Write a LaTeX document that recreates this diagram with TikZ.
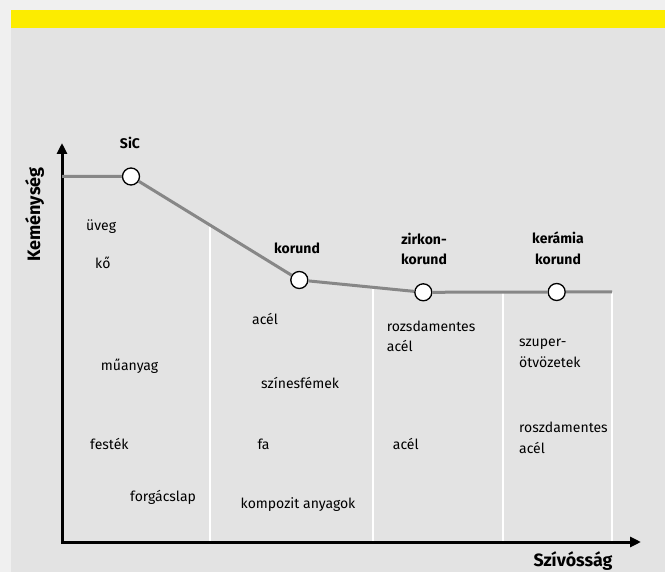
\documentclass[tikz,border=0pt]{standalone}
\usepackage{fontspec}
\setmainfont{Fira Sans}
\usetikzlibrary{arrows.meta}
\definecolor{outerbg}{HTML}{F0F0F0}
\definecolor{panelbg}{HTML}{E3E3E3}
\definecolor{bandyellow}{HTML}{FCEC00}
\definecolor{curvegray}{HTML}{878787}

\begin{document}
\begin{tikzpicture}[x=1pt,y=-1pt,
  mat/.style={anchor=mid west,font=\fontsize{14}{20.7}\selectfont,align=left,inner sep=0pt},
  grade/.style={font=\bfseries\fontsize{14}{20.5}\selectfont,align=center,inner sep=0pt},
  axislabel/.style={font=\bfseries\fontsize{18}{20}\selectfont,inner sep=0pt},
  grain/.style={circle,draw=black,fill=white,line width=1.3pt,minimum size=17pt,inner sep=0pt}]

% background, yellow band
\fill[outerbg] (0,0) rectangle (665,572);
\fill[panelbg] (11,28) rectangle (665,572);
\fill[bandyellow] (11,10) rectangle (665,28);
\useasboundingbox (0,0) rectangle (665,572);

% white separators
\draw[white,line width=1.3pt] (210,225) -- (210,542);
\draw[white,line width=1.3pt] (373,287) -- (373,542);
\draw[white,line width=1.3pt] (503,292) -- (503,542);
\draw[white,line width=1.3pt] (612,292) -- (612,542);

% axes
\coordinate (ytop) at (62,143);
\coordinate (origin) at (62,542);
\coordinate (xend) at (641,542);
\draw[line width=3pt,miter limit=4,{Triangle[length=11pt,width=10pt]}-{Triangle[length=11pt,width=10pt]}]
  (ytop) -- (origin) -- (xend);

% grains
\coordinate (start) at (62,176.5);
\node[grain] (sic) at (131,176.5) {};
\node[grain] (korund) at (299.3,280) {};
\node[grain] (zirkon) at (423.3,292.3) {};
\node[grain] (keramia) at (556.7,292) {};
\coordinate (end) at (612,292);

\draw[curvegray,line width=3pt] (start) -- (sic) -- (korund) -- (zirkon) -- (keramia) -- (end);

\node[grade] (sicl) at (130,143) {SiC};
\node[grade] (korundl) at (297,248) {korund};
\node[grade] (zirkonl) at (424,249) {zirkon-\\korund};
\node[grade] (keramial) at (558,248.5) {kerámia\\korund};

% axis labels
\node[axislabel,rotate=90] (ylab) at (34.5,214.5) {Keménység};
\node[axislabel,font=\bfseries\fontsize{17.8}{20}\selectfont,anchor=base] (xlab) at (573,566.5) {Szívósság};

% materials
\node[mat] (uveg) at (86,228) {üveg};
\node[mat] (ko) at (95,265.5) {kő};
\node[mat] (muanyag) at (100.7,367.7) {műanyag};
\node[mat] (festek) at (90,446.7) {festék};
\node[mat] (forgacslap) at (130,499) {forgácslap};

\node[mat] (acel1) at (252,321.7) {acél};
\node[mat] (szinesfem) at (261,386) {színesfémek};
\node[mat] (fa) at (257.3,446.7) {fa};
\node[mat] (kompozit) at (240.5,506) {kompozit anyagok};

\node[mat] (rozsda1) at (386.7,349.2) {rozsdamentes\\acél};
\node[mat] (acel2) at (392.7,446.7) {acél};

\node[mat] (szuper) at (519,365) {szuper-\\ötvözetek};
\node[mat] (rozsda2) at (519,450.5) {roszdamentes\\acél};

\end{tikzpicture}
\end{document}
